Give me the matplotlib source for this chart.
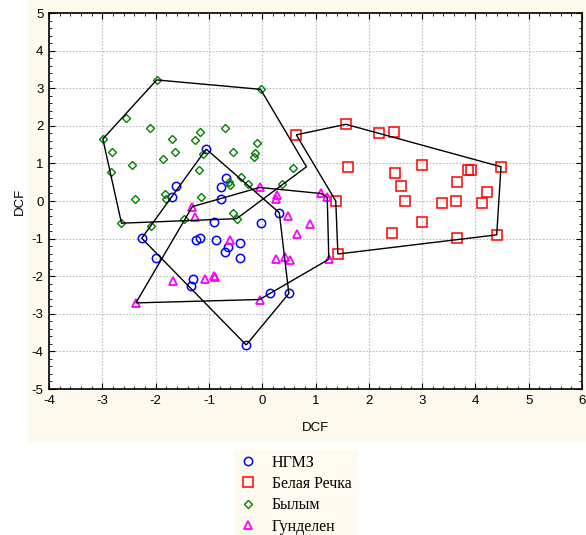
import matplotlib
matplotlib.use('Agg')
import matplotlib.pyplot as plt
from matplotlib.patches import Rectangle
from matplotlib.ticker import MultipleLocator

plt.rcParams['axes.unicode_minus'] = False  # plain hyphen like the original

# group names (legend)
groups = ['НГМЗ', 'Белая Речка', 'Былым', 'Гунделен']

# НГМЗ (blue circles)
ngmz_x = [-1.05, -0.67, -0.77, -1.62, -1.70, -0.77, 0.32, -0.91, -0.03, -2.26,
          -0.86, -0.42, -0.65, -0.70, -0.42, -1.25, -1.16, -1.99, -1.30, -1.33,
          0.15, 0.50, -0.30]
ngmz_y = [1.38, 0.62, 0.36, 0.40, 0.11, 0.05, -0.31, -0.56, -0.59, -0.99,
          -1.04, -1.11, -1.23, -1.35, -1.51, -1.04, -0.98, -1.51, -2.08, -2.25,
          -2.46, -2.46, -3.83]
ngmz_hull_x = [-1.05, 0.32, 0.50, -0.30, -2.26]
ngmz_hull_y = [1.38, -0.31, -2.46, -3.83, -0.99]

# Белая Речка (red squares)
br_x = [0.64, 1.57, 2.20, 2.47, 1.61, 2.99, 4.48, 2.50, 3.86, 3.92, 2.60, 3.66,
        4.21, 1.38, 2.67, 3.37, 3.64, 4.12, 2.99, 2.44, 3.66, 4.40, 1.42]
br_y = [1.76, 2.04, 1.82, 1.84, 0.91, 0.95, 0.91, 0.75, 0.83, 0.83, 0.41, 0.50,
        0.25, 0.00, 0.00, -0.06, 0.00, -0.06, -0.56, -0.84, -0.98, -0.90, -1.41]
br_hull_x = [0.64, 1.57, 4.48, 4.40, 1.42, 1.38]
br_hull_y = [1.76, 2.04, 0.91, -0.90, -1.41, 0.00]

# Былым (green diamonds)
byl_x = [-1.98, -2.55, -2.99, -2.11, -1.69, -1.17, -1.27, -2.81, -1.63, -1.86,
         -1.11, -2.45, -2.83, -1.19, -0.03, -0.69, -0.09, -0.55, -0.13, -0.16,
         0.57, -0.40, -0.62, -0.61, -0.27, 0.38, -1.83, -1.80, -2.39, -1.14,
         -0.55, -0.48, -2.64, -2.08, -1.46]
byl_y = [3.22, 2.20, 1.65, 1.94, 1.65, 1.83, 1.61, 1.30, 1.30, 1.12,
         1.24, 0.96, 0.76, 0.83, 2.97, 1.94, 1.55, 1.30, 1.27, 1.17,
         0.87, 0.63, 0.51, 0.43, 0.44, 0.44, 0.19, 0.05, 0.04, 0.10,
         -0.31, -0.47, -0.59, -0.66, -0.48]
byl_hull_x = [-1.98, -0.03, 0.83, -0.48, -2.64, -2.99]
byl_hull_y = [3.22, 2.97, 0.91, -0.47, -0.59, 1.65]

# Гунделен (magenta triangles)
gun_x = [-0.05, 0.27, 0.25, 1.10, 1.22, 0.48, 0.89, 0.65, -0.60, 0.25, 0.42,
         0.52, 1.25, -0.89, -1.31, -1.27, -1.67, -1.08, -0.90, -2.37, -0.05]
gun_y = [0.36, 0.16, 0.05, 0.20, 0.10, -0.39, -0.61, -0.89, -1.04, -1.55, -1.48,
         -1.57, -1.55, -2.01, -0.15, -0.42, -2.12, -2.08, -2.00, -2.71, -2.62]
gun_hull_x = [-1.31, -0.05, 1.10, 1.22, 1.25, -0.05, -2.37]
gun_hull_y = [-0.15, 0.36, 0.20, 0.10, -1.55, -2.62, -2.71]

cream = '#fffaee'

fig = plt.figure(figsize=(5.86, 5.35), dpi=100)
# cream backdrop behind the plot area
fig.patches.append(Rectangle((28 / 586, 1 - 441 / 535), 1, 441 / 535,
                             transform=fig.transFigure, color=cream, zorder=-5))
ax = fig.add_axes([49 / 586, 1 - 389 / 535, 533 / 586, 376 / 535])
ax.set_facecolor('white')

ax.set_xlim(-4, 6)
ax.set_ylim(-5, 5)
ax.xaxis.set_major_locator(MultipleLocator(1))
ax.yaxis.set_major_locator(MultipleLocator(1))
ax.xaxis.set_minor_locator(MultipleLocator(0.2))
ax.yaxis.set_minor_locator(MultipleLocator(0.2))
ax.tick_params(which='both', direction='in', top=True, right=True,
               labelsize=9.5, pad=4)
ax.tick_params(which='major', length=4, width=0.8)
ax.tick_params(which='minor', length=2, width=0.6)
for lab in ax.get_xticklabels() + ax.get_yticklabels():
    lab.set_family('Liberation Sans')
ax.grid(True, which='major', linestyle=(0, (1.5, 1.5)), color='#bcbcbc', linewidth=0.8)
ax.set_axisbelow(True)
for sp in ax.spines.values():
    sp.set_linewidth(1.2)

ax.set_xlabel('DCF', family='Liberation Sans', fontsize=9.5, labelpad=11)
ax.set_ylabel('DCF', family='Liberation Sans', fontsize=9.5, labelpad=4)

ax.fill(ngmz_hull_x, ngmz_hull_y, fill=False, edgecolor='black', linewidth=1, zorder=3)
ax.fill(br_hull_x, br_hull_y, fill=False, edgecolor='black', linewidth=1, zorder=3)
ax.fill(byl_hull_x, byl_hull_y, fill=False, edgecolor='black', linewidth=1, zorder=3)
ax.fill(gun_hull_x, gun_hull_y, fill=False, edgecolor='black', linewidth=1, zorder=3)

h1, = ax.plot(ngmz_x, ngmz_y, 'o', ms=6, mfc='none', mec='#0000ff', mew=1.1, zorder=2)
h2, = ax.plot(br_x, br_y, 's', ms=7, mfc='none', mec='#ff0000', mew=1.1, zorder=2)
h3, = ax.plot(byl_x, byl_y, 'D', ms=4, mfc='none', mec='#008000', mew=1.0, zorder=2)
h4, = ax.plot(gun_x, gun_y, '^', ms=6, mfc='none', mec='#ff00ff', mew=1.3, zorder=2)

leg = fig.legend([h1, h2, h3, h4], groups, loc='upper left',
                 bbox_to_anchor=(227 / 586, 1 - 442 / 535),
                 prop={'family': 'Liberation Serif', 'size': 11.5},
                 frameon=True, fancybox=False, handlelength=1.0,
                 handletextpad=1.0, labelspacing=0.33, borderpad=0.3)
leg.get_frame().set_facecolor(cream)
leg.get_frame().set_edgecolor(cream)

fig.savefig('out.png', dpi=100)
